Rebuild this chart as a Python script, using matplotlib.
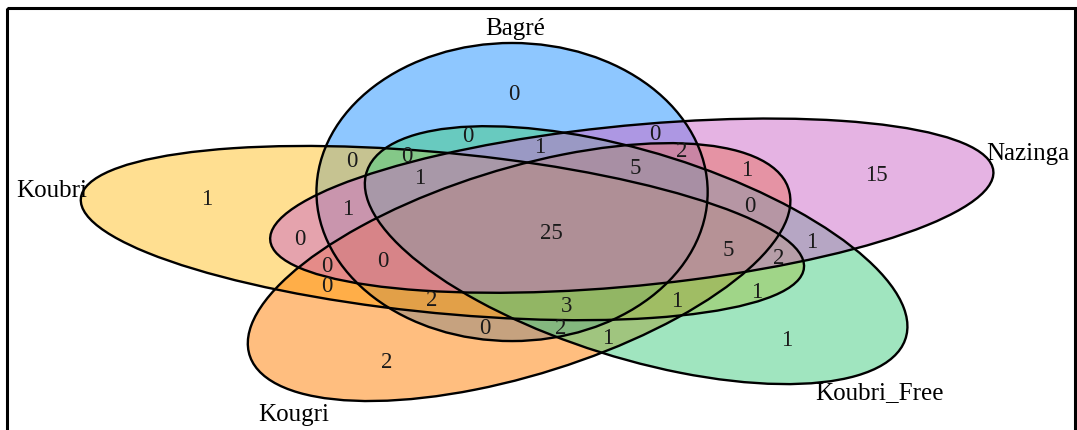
import numpy as np
import matplotlib
matplotlib.use("Agg")
import matplotlib.pyplot as plt
from matplotlib.patches import Ellipse, Rectangle
from matplotlib.transforms import Affine2D

# sets in drawing order (later fills sit on top of earlier ones)
set_names = ["Bagré", "Koubri", "Kougri", "Koubri_Free", "Nazinga"]
set_colors = ["#1E90FF", "#FFC125", "#FF7F00", "#43CD80", "#CD69C9"]
# place of each set around the pentagon, clockwise from the top
set_slot = [0, 4, 3, 2, 1]

# counts of every region (31 of them)
region_counts = [0, 15, 1, 2, 1,
                 0, 0, 0, 0, 1, 2, 1, 5, 1, 1, 0,
                 25,
                 0, 1, 5, 2, 0, 0, 0, 2, 3, 1, 1, 0, 2, 1]

# where each count is written (pixels)
region_xy = [(514, 95), (876, 176), (787, 341), (387, 363), (207, 200),
             (468, 137), (655, 135), (352, 162), (407, 157), (540, 148),
             (682, 152), (747, 171), (635, 169), (420, 179), (348, 210),
             (750, 207), (551, 234), (300, 240), (812, 243), (728, 251),
             (779, 259), (327, 267), (383, 262), (327, 287), (432, 301),
             (567, 307), (677, 302), (757, 293), (485, 329), (561, 329),
             (608, 339)]

# category label positions (pixels)
label_xy = {"Bagré": (515, 29), "Nazinga": (1028, 154), "Koubri_Free": (879, 393),
            "Kougri": (294, 415), "Koubri": (52, 191)}

# quintuple ellipse layout in unit space
dist, a, b, init_angle = 0.13, 0.24, 0.46, -20.0
sx, sy = 815.0, 324.0
cx, cy = 548.3, 232.6

W, H = 1077, 431
fig = plt.figure(figsize=(W / 100, H / 100), dpi=100)
ax = fig.add_axes([0, 0, 1, 1])
ax.set_xlim(0, W)
ax.set_ylim(H, 0)
ax.axis("off")

unit = Affine2D().scale(sx, -sy).translate(cx, cy) + ax.transData

def make_ellipse(slot, **kw):
    t = np.deg2rad(init_angle + 72 * slot)
    centre = (dist * np.sin(t), dist * np.cos(t))
    return Ellipse(centre, 2 * a, 2 * b, angle=-72 * slot, transform=unit, **kw)

for name, col, slot in zip(set_names, set_colors, set_slot):
    ax.add_patch(make_ellipse(slot, facecolor=col, alpha=0.5, edgecolor="none"))
for slot in set_slot:
    ax.add_patch(make_ellipse(slot, facecolor="none", edgecolor="black", lw=1.7))

serif = ["Liberation Serif", "DejaVu Serif"]
for n, (x, y) in zip(region_counts, region_xy):
    ax.text(x, y, str(n), family=serif, fontsize=16.5, color="#1a1a1a",
            ha="center", va="center")
for name in set_names:
    x, y = label_xy[name]
    ax.text(x, y, name, family=serif, fontsize=18, color="black",
            ha="center", va="center")

# outer frame (bottom edge falls outside the image)
ax.add_patch(Rectangle((7, 9), 1068, 440, facecolor="none", edgecolor="black",
                       lw=2.2, clip_on=False))

fig.savefig("out.png", dpi=100)
